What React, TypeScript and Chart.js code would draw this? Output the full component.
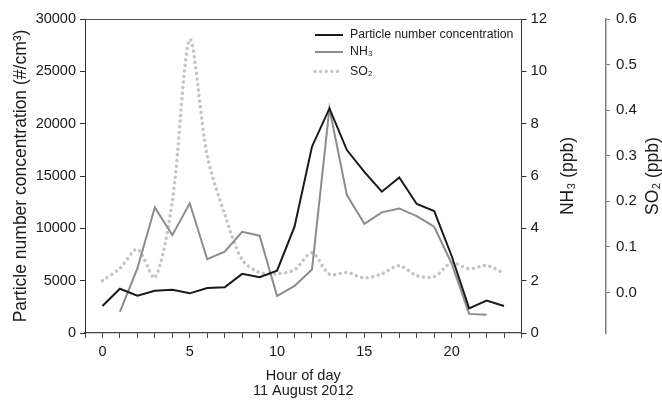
import React, { useEffect, useRef } from 'react';
import { Chart, registerables } from 'chart.js';

Chart.register(...registerables);

const FONT = '"Liberation Sans", Arial, Helvetica, sans-serif';

// ---- data ----
const hours = [0, 1, 2, 3, 4, 5, 6, 7, 8, 9, 10, 11, 12, 13, 14, 15, 16, 17, 18, 19, 20, 21, 22, 23];
const particleCounts = [2580, 4230, 3570, 4040, 4140, 3790, 4300, 4360, 5650, 5330, 5950, 10160, 17800, 21460, 17480, 15400, 13500, 14870, 12320, 11650, 7360, 2360, 3090, 2580];
const nh3Ppb = [null, 0.81, 2.47, 4.8, 3.74, 4.96, 2.82, 3.11, 3.87, 3.72, 1.41, 1.8, 2.43, 8.59, 5.27, 4.17, 4.61, 4.76, 4.47, 4.06, 2.65, 0.73, 0.7, null];
const so2Ppb = [0.026, 0.053, 0.095, 0.033, 0.2, 0.555, 0.3, 0.172, 0.072, 0.044, 0.041, 0.05, 0.087, 0.04, 0.044, 0.032, 0.041, 0.059, 0.037, 0.035, 0.065, 0.052, 0.059, 0.042];

const seriesLabels = ['Particle number concentration', 'NH\u2083', 'SO\u2082'];
const xTickLabels = [0, 5, 10, 15, 20];
const pncTicks = [0, 5000, 10000, 15000, 20000, 25000, 30000];
const nh3Ticks = [0, 2, 4, 6, 8, 10, 12];
const so2Ticks = [0.0, 0.1, 0.2, 0.3, 0.4, 0.5, 0.6];
const xTitle = ['Hour of day', '11 August 2012'];
const yTitle = 'Particle number concentration (#/cm\u00B3)';
const y1Title = 'NH\u2083 (ppb)';
const y2Title = 'SO\u2082 (ppb)';

const decorPlugin = {
  id: 'decor',
  afterDraw(chart: any) {
    const { ctx, chartArea } = chart;
    ctx.save();
    // top frame line
    ctx.strokeStyle = '#555';
    ctx.lineWidth = 1;
    ctx.beginPath();
    ctx.moveTo(chartArea.left, chartArea.top + 0.5);
    ctx.lineTo(chartArea.right, chartArea.top + 0.5);
    ctx.stroke();

    // right axis titles (rotated, reading bottom to top)
    const cy = (chartArea.top + chartArea.bottom) / 2;
    ctx.fillStyle = '#1a1a1a';
    ctx.font = `17.5px ${FONT}`;
    ctx.textAlign = 'center';
    ctx.textBaseline = 'middle';
    const y1 = chart.scales.y1;
    const y2 = chart.scales.y2;
    const titles: [number, string][] = [
      [y1.right - 38, y1Title],
      [y2.right - 9, y2Title],
    ];
    titles.forEach(([x, t]) => {
      ctx.save();
      ctx.translate(x, cy);
      ctx.rotate(-Math.PI / 2);
      ctx.fillText(t, 0, 0);
      ctx.restore();
    });

    // legend
    const lx = chartArea.left + 229;
    const rows = [chartArea.top + 16, chartArea.top + 33, chartArea.top + 52.5];
    chart.data.datasets.forEach((ds: any, i: number) => {
      const y = rows[i];
      ctx.save();
      ctx.strokeStyle = ds.borderColor;
      ctx.lineWidth = ds.borderWidth;
      ctx.lineCap = ds.borderCapStyle || 'butt';
      ctx.setLineDash(ds.borderDash || []);
      ctx.beginPath();
      ctx.moveTo(lx + 1, y);
      ctx.lineTo(lx + 29, y);
      ctx.stroke();
      ctx.restore();
      ctx.fillStyle = '#1a1a1a';
      ctx.font = `12.3px ${FONT}`;
      ctx.textAlign = 'left';
      ctx.textBaseline = 'middle';
      ctx.fillText(ds.label, lx + 36, y);
    });
    ctx.restore();
  },
};

export default function App() {
  const ref = useRef<HTMLCanvasElement | null>(null);

  useEffect(() => {
    document.body.style.margin = '0';
    const canvas = ref.current;
    if (!canvas) return;
    const toPts = (arr: (number | null)[]) => hours.map((h, i) => ({ x: h, y: arr[i] }));

    const chart = new Chart(canvas, {
      type: 'line',
      data: {
        datasets: [
          {
            label: seriesLabels[0],
            data: toPts(particleCounts),
            yAxisID: 'y',
            borderColor: '#1a1a1a',
            borderWidth: 2,
            pointRadius: 0,
            tension: 0,
          },
          {
            label: seriesLabels[1],
            data: toPts(nh3Ppb),
            yAxisID: 'y1',
            borderColor: '#8c8c8c',
            borderWidth: 2,
            pointRadius: 0,
            tension: 0,
            spanGaps: false,
          },
          {
            label: seriesLabels[2],
            data: toPts(so2Ppb),
            yAxisID: 'y2',
            borderColor: '#c4c4c4',
            borderWidth: 3.5,
            borderDash: [0.01, 5.6],
            borderCapStyle: 'round',
            pointRadius: 0,
            tension: 0.3,
          },
        ] as any,
      },
      plugins: [decorPlugin],
      options: {
        animation: false,
        responsive: false,
        devicePixelRatio: 1,
        layout: { padding: { top: 19, left: 0, right: 0, bottom: 0 } },
        plugins: { legend: { display: false }, tooltip: { enabled: false } },
        scales: {
          x: {
            type: 'linear',
            min: -1,
            max: 24,
            afterFit: (s: any) => { s.height = 68; },
            grid: { display: true, drawOnChartArea: false, tickLength: 5, color: '#444' },
            border: { display: true, color: '#444', width: 1.2 },
            ticks: {
              stepSize: 1,
              autoSkip: false,
              maxRotation: 0,
              padding: 5,
              color: '#1a1a1a',
              font: { family: FONT, size: 14.5 },
              callback: (v: any) => (xTickLabels.includes(Number(v)) ? String(v) : ''),
            },
            title: {
              display: true,
              text: xTitle,
              color: '#1a1a1a',
              font: { family: FONT, size: 14.5, lineHeight: 1.05 },
              padding: { top: 0, bottom: 2 },
            },
          },
          y: {
            type: 'linear',
            position: 'left',
            min: 0,
            max: 30000,
            afterFit: (s: any) => { s.width = 85; },
            afterBuildTicks: (s: any) => { s.ticks = pncTicks.map((v) => ({ value: v })); },
            grid: { display: true, drawOnChartArea: false, tickLength: 5, color: '#333' },
            border: { display: true, color: '#333', width: 1 },
            ticks: {
              padding: 4,
              color: '#1a1a1a',
              font: { family: FONT, size: 14.5 },
              callback: (v: any) => String(v),
            },
            title: {
              display: true,
              text: yTitle,
              color: '#1a1a1a',
              font: { family: FONT, size: 17.5, lineHeight: 1 },
              padding: { top: 12, bottom: 0 },
            },
          },
          y1: {
            type: 'linear',
            position: 'right',
            weight: 1,
            min: 0,
            max: 12,
            afterFit: (s: any) => { s.width = 84.5; },
            afterBuildTicks: (s: any) => { s.ticks = nh3Ticks.map((v) => ({ value: v })); },
            grid: { display: true, drawOnChartArea: false, tickLength: 5, color: '#333' },
            border: { display: true, color: '#333', width: 1 },
            ticks: {
              padding: 4,
              color: '#1a1a1a',
              font: { family: FONT, size: 15 },
              callback: (v: any) => String(v),
            },
          },
          y2: {
            type: 'linear',
            position: 'right',
            weight: 2,
            min: -0.0888,
            max: 0.6,
            afterFit: (s: any) => { s.width = 56; },
            afterBuildTicks: (s: any) => { s.ticks = so2Ticks.map((v) => ({ value: v })); },
            grid: { display: true, drawOnChartArea: false, tickLength: 4, color: '#777' },
            border: { display: true, color: '#808080', width: 1.5 },
            ticks: {
              padding: 6,
              color: '#1a1a1a',
              font: { family: FONT, size: 15 },
              callback: (v: any) => Number(v).toFixed(1),
            },
          },
        },
      } as any,
    });

    return () => chart.destroy();
  }, []);

  return (
    <div style={{ position: 'absolute', left: 0, top: 0, width: 662, height: 401 }}>
      <canvas ref={ref} width={662} height={401} />
    </div>
  );
}
